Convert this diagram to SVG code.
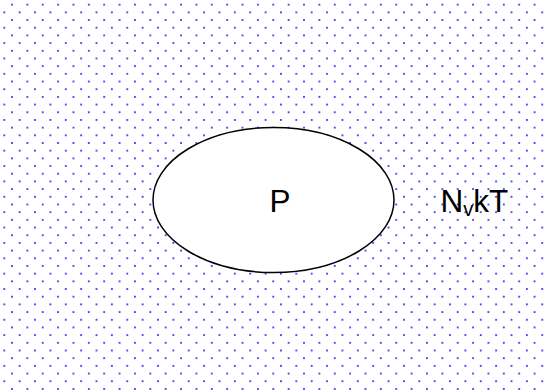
<svg xmlns="http://www.w3.org/2000/svg" width="544" height="392" viewBox="0 0 544 392">
  <defs>
    <pattern id="dots" patternUnits="userSpaceOnUse" width="15.37" height="15.37" patternTransform="translate(12,4.67)">
      <circle cx="0" cy="0" r="1" fill="#1a1aff"/>
      <circle cx="15.37" cy="0" r="1" fill="#1a1aff"/>
      <circle cx="0" cy="15.37" r="1" fill="#1a1aff"/>
      <circle cx="15.37" cy="15.37" r="1" fill="#1a1aff"/>
      <circle cx="7.685" cy="7.685" r="1" fill="#1a1aff"/>
    </pattern>
    <style>
      .lbl { font-family: "Liberation Sans", Arial, sans-serif; fill: #000; }
    </style>
  </defs>
  <rect x="0" y="0" width="544" height="392" fill="#fff"/>
  <rect x="0" y="0" width="544" height="392" fill="url(#dots)"/>
  <g id="node-P">
    <ellipse cx="273.5" cy="200" rx="120.5" ry="72.5" fill="#fff" stroke="#000" stroke-width="1.5"/>
    <text class="lbl" x="280" y="211.5" font-size="31.5" text-anchor="middle">P</text>
  </g>
  <g id="label-NvkT">
    <text class="lbl" x="440.5" y="211.5" font-size="31.5">N<tspan font-size="20" dy="4">v</tspan><tspan dy="-4">kT</tspan></text>
  </g>
  <g id="connectors"></g>
</svg>
